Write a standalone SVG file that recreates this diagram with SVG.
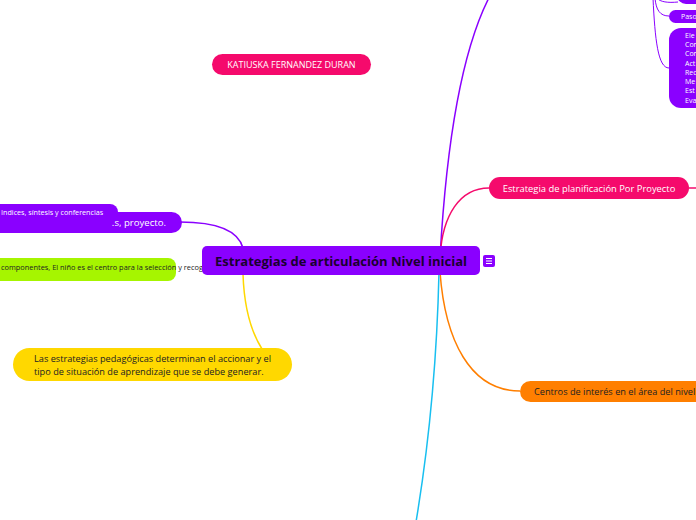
<svg xmlns="http://www.w3.org/2000/svg" width="696" height="520" viewBox="0 0 696 520">
<style>
text{font-family:"Open Sans","Noto Sans","DejaVu Sans",sans-serif}
.c{fill:none;stroke-width:1.5}
.t{stroke-width:1}
.w{fill:#ffffff}
.d{fill:#222222}
</style>
<rect width="696" height="520" fill="#ffffff"/>
<g id="connectors">
<path class="c" stroke="#8a00ff" d="M440,258 C446,150 460,50 492,-8"/>
<path class="c t" stroke="#8a00ff" d="M653,-2 C655,40 658,68 669,68"/>
<path class="c t" stroke="#8a00ff" d="M655,-2 C656,10 660,16 669,16"/>
<path class="c t" stroke="#8a00ff" d="M657,-2 C660,2 668,3 678,2"/>
<path class="c" stroke="#f50a6c" d="M440,258 C442,215 460,188 489,188"/>
<path class="c" stroke="#f50a6c" d="M689,188 L696,188"/>
<path class="c" stroke="#ff7f00" d="M440,272 C445,340 470,391 520,391"/>
<path class="c" stroke="#18bff0" d="M439,272 C437,360 428,450 416,522"/>
<path class="c" stroke="#ffd800" d="M243,274 C244,305 250,330 262,349"/>
<path class="c" stroke="#8a00ff" d="M180,222 C215,222 238,230 243,248"/>
</g>
<g id="n-katiuska">
<rect x="212" y="54" width="159" height="21" rx="10.5" fill="#f50a6c"/>
<text x="291.5" y="68" font-size="9" text-anchor="middle" class="w">KATIUSKA FERNANDEZ DURAN</text>
</g>
<g id="n-top-right">
<rect x="677" y="-20" width="40" height="24" rx="9" fill="#8a00ff"/>
</g>
<g id="n-paso">
<rect x="669" y="10" width="40" height="13" rx="6.5" fill="#8a00ff"/>
<text x="681" y="19" font-size="7" class="w">Paso</text>
</g>
<g id="n-elementos">
<rect x="669" y="28" width="50" height="80" rx="12" fill="#8a00ff"/>
<g font-size="7">
<text x="685" y="38" class="w">Ele</text>
<text x="685" y="47" class="w">Con</text>
<text x="685" y="56" class="w">Con</text>
<text x="685" y="66" class="w">Act</text>
<text x="685" y="75" class="w">Rec</text>
<text x="685" y="84" class="w">Me</text>
<text x="685" y="93" class="w">Est</text>
<text x="685" y="103" class="w">Eva</text>
</g>
</g>
<g id="n-planificacion">
<rect x="489" y="177" width="200" height="22" rx="11" fill="#f50a6c"/>
<text x="589" y="191.5" font-size="9.4" text-anchor="middle" class="w">Estrategia de planificación Por Proyecto</text>
</g>
<g id="n-centros">
<rect x="520" y="381" width="200" height="21" rx="10.5" fill="#ff7f00"/>
<text x="534" y="395" font-size="9.2" class="d">Centros de interés en el área del nivel</text>
</g>
<g id="n-proyecto">
<rect x="-20" y="212" width="202" height="21" rx="10.5" fill="#8a00ff"/>
<text x="166" y="226" font-size="9.6" text-anchor="end" class="w">.s, proyecto.</text>
</g>
<g id="n-indices">
<rect x="-20" y="204" width="138" height="16" rx="8" fill="#8a00ff"/>
<text x="1" y="215" font-size="7.2" class="w">Indices, síntesis y conferencias</text>
</g>
<g id="n-componentes">
<rect x="-20" y="258" width="196" height="23" rx="8" fill="#a6f500"/>
<text x="1" y="270" font-size="7.4" class="d">componentes, El niño es el centro para la selección y recogi</text>
</g>
<g id="n-central">
<rect x="202" y="246" width="278" height="29" rx="5" fill="#8a00ff"/>
<text x="341" y="265.5" font-size="13" font-weight="bold" text-anchor="middle" fill="#1a0030" textLength="252" lengthAdjust="spacingAndGlyphs">Estrategias de articulación Nivel inicial</text>
<rect x="483" y="255" width="12" height="12" rx="2" fill="#8a00ff"/>
<path d="M486,258.5 H492 M486,261 H492 M486,263.5 H492" stroke="#ffffff" stroke-width="1"/>
</g>
<g id="n-estrategias-ped">
<rect x="13" y="348" width="279" height="33" rx="16.5" fill="#ffd800"/>
<text x="34" y="362" font-size="9.2" class="d">Las estrategias pedagógicas determinan el accionar y el</text>
<text x="34" y="374.5" font-size="9.2" class="d">tipo de situación de aprendizaje que se debe generar.</text>
</g>
</svg>
